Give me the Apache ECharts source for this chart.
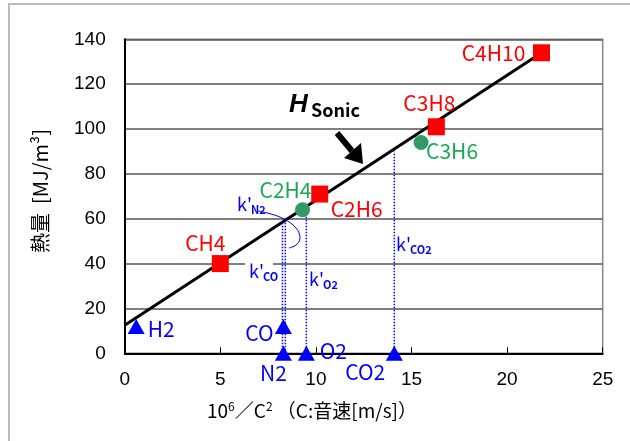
<!DOCTYPE html>
<html>
<head>
<meta charset="utf-8">
<script src="https://cdn.jsdelivr.net/npm/echarts@6/dist/echarts.min.js"></script>
<style>
  html, body { margin: 0; padding: 0; background: #fff; }
  #main { width: 630px; height: 441px; }
</style>
</head>
<body>
<div id="main"></div>
<script>
// 炭化水素 (red squares)
var redNames = ['CH4', 'C2H6', 'C3H8', 'C4H10'];
var redX = [5.0, 10.2, 16.3, 21.8];
var redY = [40, 71, 101, 134];
// 不飽和 (green circles)
var greenNames = ['C2H4', 'C3H6'];
var greenX = [9.3, 15.5];
var greenY = [64, 94];
// 不燃・その他 (blue triangles)
var blueNames = ['H2', 'CO', 'N2', 'O2', 'CO2'];
var blueX = [0.6, 8.3, 8.3, 9.5, 14.1];
var blueY = [12, 12, 0, 0, 0];
// H_Sonic 近似直線
var fitX = [0, 21.8];
var fitY = [12.5, 134];
// k' 点線
var dropX = [8.25, 8.4, 9.5, 14.1];
var dropTop = [59, 59, 64, 90];
var yTicks = [0, 20, 40, 60, 80, 100, 120, 140];

// label offsets (px, from marker centre)
var labelOffset = {
    'CH4': [-15, -21], 'C2H6': [37, 15], 'C3H8': [-7, -24], 'C4H10': [-48, 0],
    'C2H4': [-17, -20], 'C3H6': [31, 9],
    'H2': [25, 3], 'CO': [-24, 7], 'N2': [-10, 20], 'O2': [27, -2], 'CO2': [-29, 19]
};
var gothic = "'Noto Sans CJK JP', sans-serif";

function makeScatter(names, xs, ys, symbol, size, color, labelColor) {
    var data = [];
    for (var i = 0; i < names.length; i++) {
        data.push({name: names[i], value: [xs[i], ys[i]], label: {offset: labelOffset[names[i]]}});
    }
    return {
        type: 'scatter', symbol: symbol, symbolSize: size, z: 5,
        itemStyle: {color: color, opacity: 1},
        label: {
            show: true, position: 'inside', formatter: '{b}',
            color: labelColor, fontSize: 21, fontFamily: gothic
        },
        data: data
    };
}

var series = [];
for (var i = 0; i < dropX.length; i++) {
    series.push({
        type: 'line', showSymbol: false, z: 3, silent: true,
        lineStyle: {color: '#0000ff', width: 1.5, type: 'dotted'},
        data: [[dropX[i], 0], [dropX[i], dropTop[i]]]
    });
}
series.push({
    type: 'line', showSymbol: false, z: 4,
    lineStyle: {color: '#000', width: 3},
    data: fitX.map(function (x, i) { return [x, fitY[i]]; })
});
series.push(makeScatter(redNames, redX, redY, 'rect', 17, '#ff0000', '#ff0000'));
series.push(makeScatter(greenNames, greenX, greenY, 'circle', 15, '#339966', '#1aaa55'));
series.push(makeScatter(blueNames, blueX, blueY, 'triangle', [17, 15], '#0000ff', '#0000ff'));

function kLabel(x, y, sub) {
    return [
        {type: 'text', x: x, y: y, z: 10,
            style: {text: "k'", fontSize: 18, fill: '#0000ff', fontFamily: gothic}},
        {type: 'text', x: x + 14, y: y + 9, z: 10,
            style: {text: sub, fontSize: 11, fontWeight: 'bold', fill: '#0000ff', fontFamily: gothic}}
    ];
}

var graphics = [
    {type: 'rect', shape: {x: 9, y: 4, width: 660, height: 480},
        style: {fill: 'none', stroke: '#bbb', lineWidth: 2}, silent: true},
    {type: 'rect', shape: {x: 245, y: 259, width: 28, height: 8}, z: 2,
        style: {fill: '#fff'}},
    // y axis name
    {type: 'text', x: 40, y: 191, rotation: Math.PI / 2,
        style: {text: '熱量  [MJ/m³]', fontSize: 20, fill: '#000',
            fontFamily: gothic, align: 'center', verticalAlign: 'middle'}},
    // x axis name
    {type: 'text', x: 312, y: 410,
        style: {text: '{n|10}{s|6}{n|／C}{s|2}{n| （C:音速[m/s]）}', align: 'center', verticalAlign: 'middle',
            rich: {
                n: {fontSize: 19, fill: '#000', fontFamily: gothic, verticalAlign: 'bottom'},
                s: {fontSize: 12, fill: '#000', fontFamily: gothic, verticalAlign: 'bottom',
                    padding: [0, 0, 8, 0]}
            }}},
    // H_Sonic
    {type: 'text', x: 289, y: 92, z: 10,
        style: {text: 'H', fontSize: 26, fontWeight: 'bold', fontStyle: 'italic',
            fill: '#000', fontFamily: 'Liberation Sans'}},
    {type: 'text', x: 311, y: 101, z: 10,
        style: {text: 'Sonic', fontSize: 18, fontWeight: 'bold', fill: '#000', fontFamily: gothic}},
    {type: 'polyline', z: 10, shape: {points: [[337, 133], [352, 151]]},
        style: {stroke: '#000', lineWidth: 6}},
    {type: 'polygon', z: 10, shape: {points: [[363, 164], [344, 158], [361, 143]]},
        style: {fill: '#000'}},
    {type: 'polyline', z: 10, shape: {smooth: 0.4,
        points: [[258, 211], [271, 214], [284, 219], [296, 228], [300, 238], [296, 245], [289, 248]]},
        style: {stroke: '#0000ff', lineWidth: 1, fill: 'none'}}
];
graphics = graphics.concat(kLabel(237, 195, 'N2'), kLabel(249, 262, 'CO'),
    kLabel(309, 270, 'O2'), kLabel(396, 235, 'CO2'));

var chart = echarts.init(document.getElementById('main'));
chart.setOption({
    animation: false,
    backgroundColor: '#fff',
    grid: {left: 124.7, top: 39.3, right: 27.3, bottom: 87.7, show: true,
        borderColor: '#888', borderWidth: 1.5},
    xAxis: {
        type: 'value', min: 0, max: 25, interval: 5,
        axisLine: {lineStyle: {color: '#000', width: 2}},
        axisTick: {inside: true, length: 6, lineStyle: {color: '#000'}},
        splitLine: {show: false},
        axisLabel: {margin: 17, fontSize: 19, color: '#000', fontFamily: 'Liberation Sans'}
    },
    yAxis: {
        type: 'value', min: yTicks[0], max: yTicks[yTicks.length - 1], interval: 20,
        axisLine: {show: true, lineStyle: {color: '#000', width: 2}},
        axisTick: {show: false},
        splitLine: {lineStyle: {color: '#555', width: 1.5}},
        axisLabel: {margin: 19, fontSize: 19, color: '#000', fontFamily: 'Liberation Sans'}
    },
    graphic: graphics,
    series: series
});
</script>
</body>
</html>
